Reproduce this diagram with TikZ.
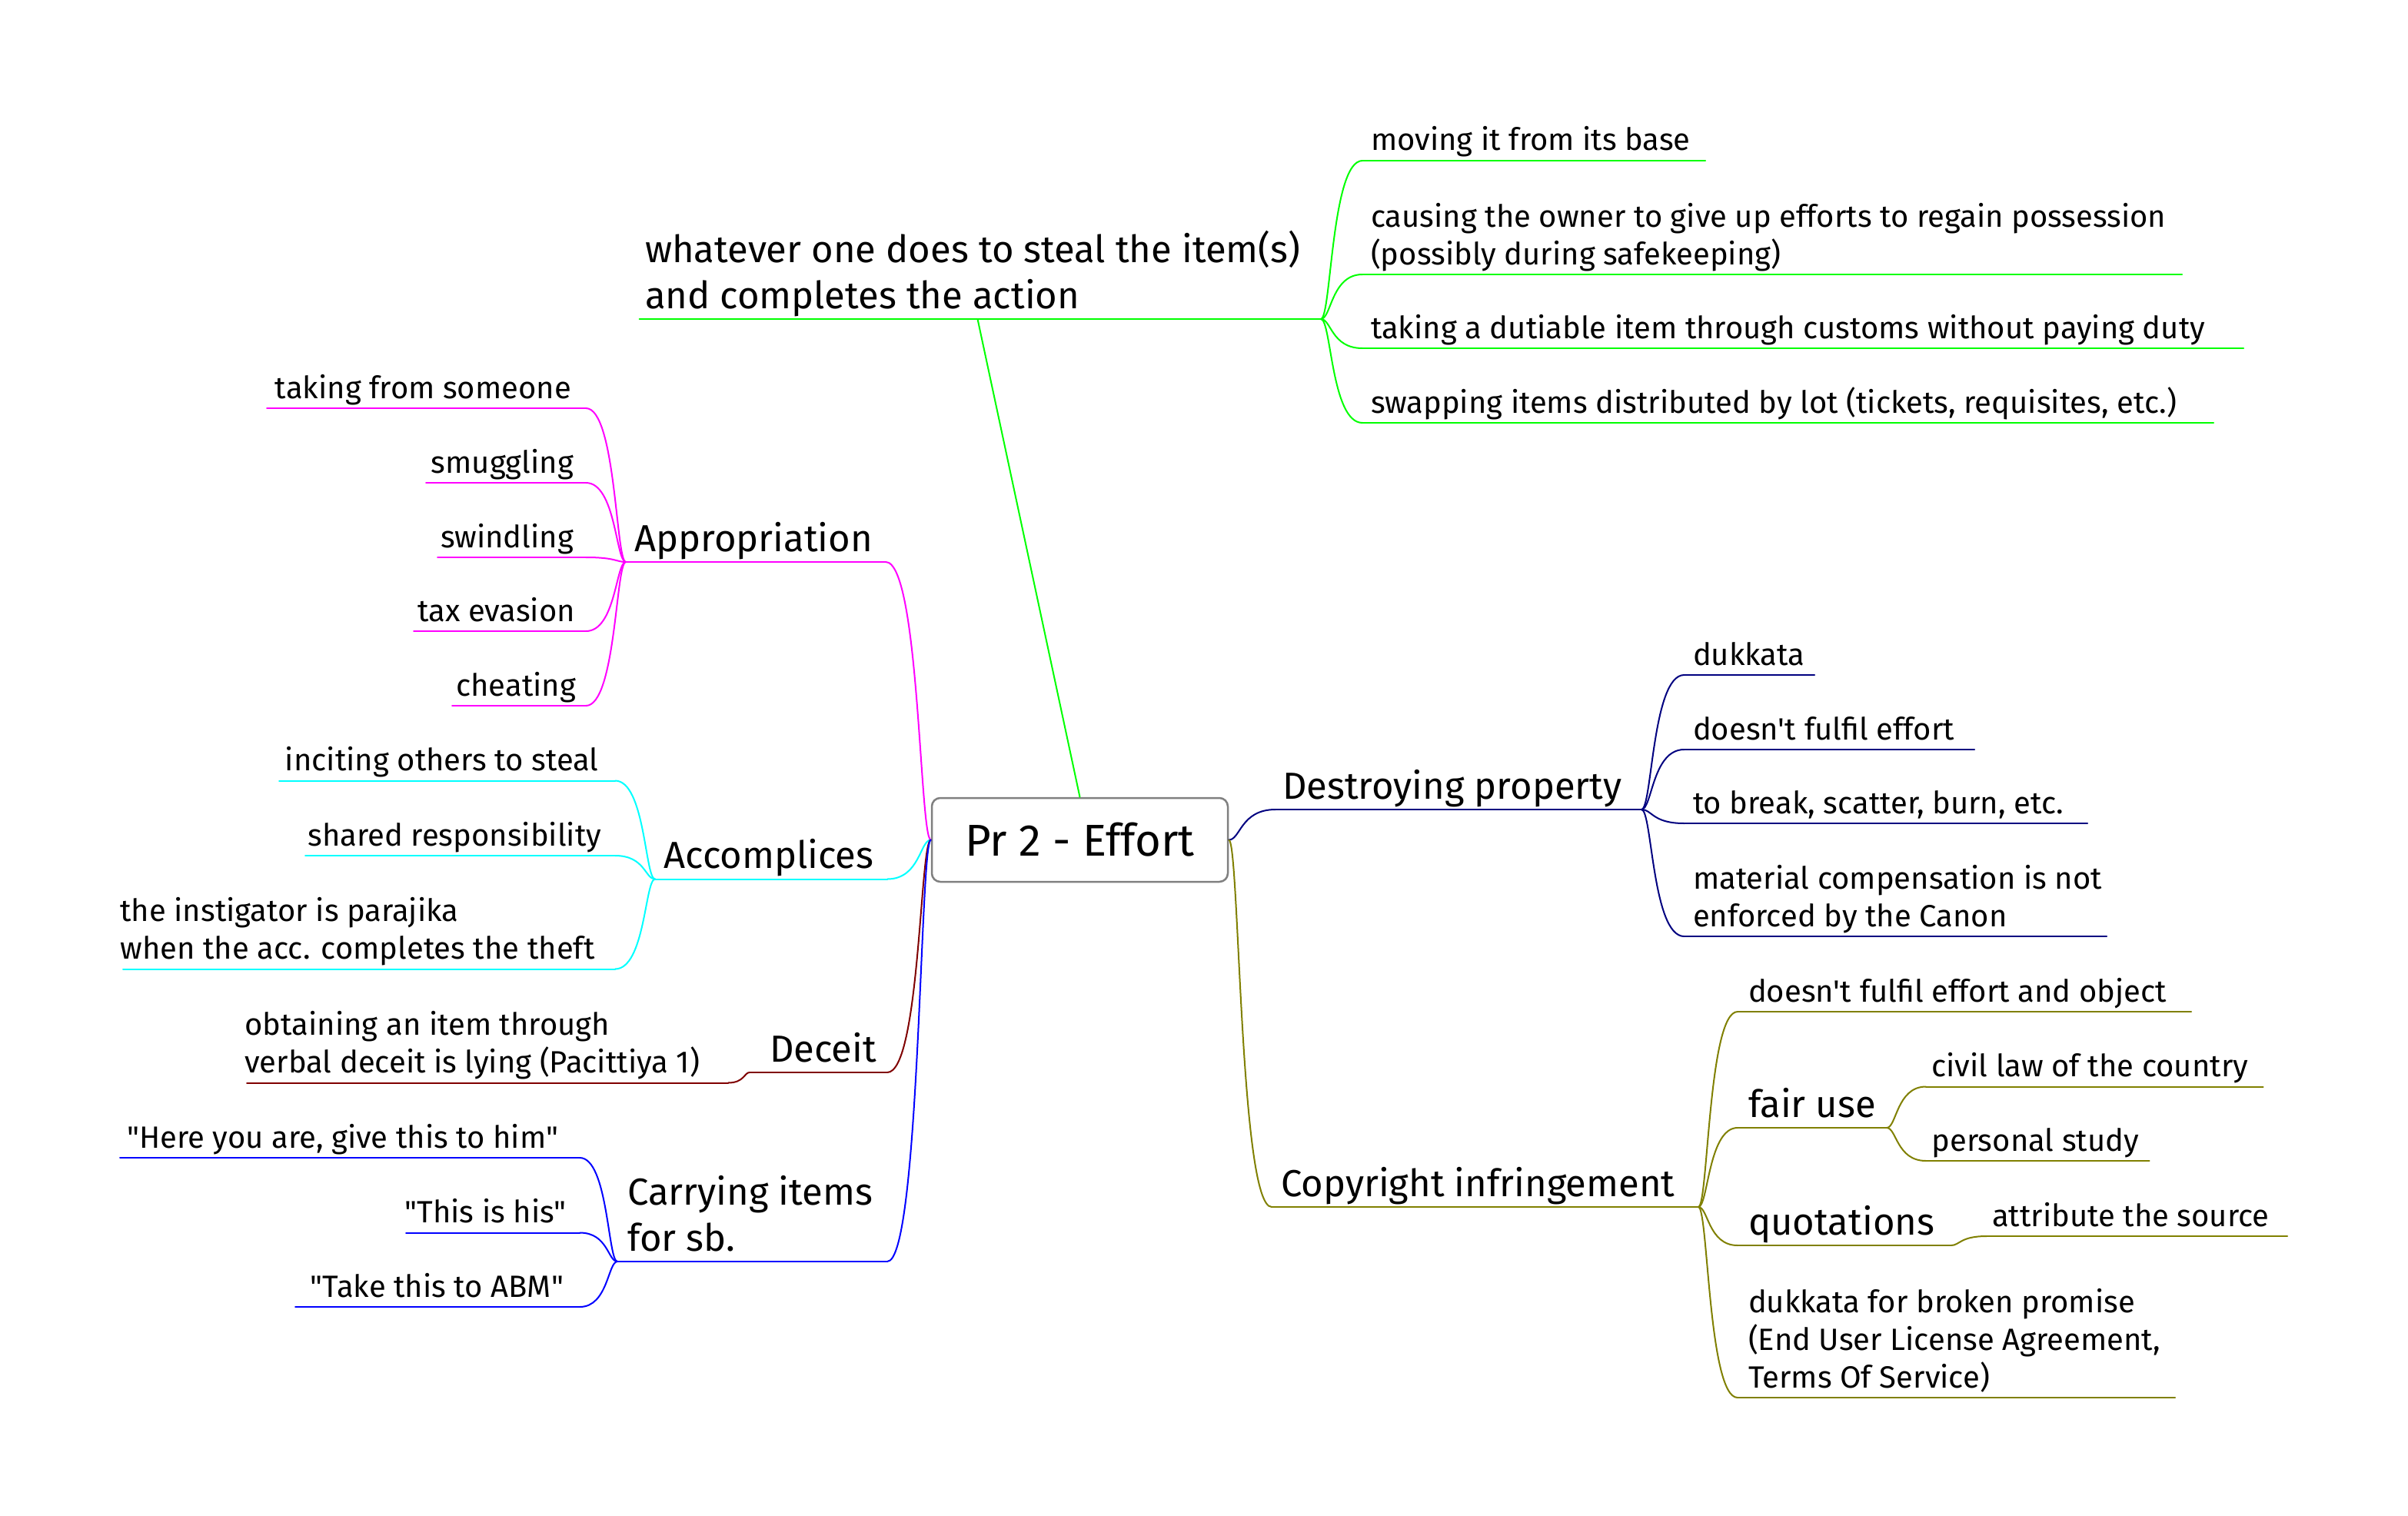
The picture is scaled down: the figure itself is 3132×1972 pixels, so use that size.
\documentclass[tikz,border=0pt]{standalone}
\usepackage{fontspec}
\setmainfont{Fira Sans}[Ligatures=TeXOff]
\usetikzlibrary{calc}
\definecolor{cgreen}{RGB}{0,255,0}
\definecolor{cmag}{RGB}{255,0,255}
\definecolor{ccyan}{RGB}{0,255,255}
\definecolor{cmaroon}{RGB}{128,0,0}
\definecolor{cblue}{RGB}{0,0,255}
\definecolor{cnavy}{RGB}{0,0,128}
\definecolor{colive}{RGB}{128,128,0}
\definecolor{cgray}{RGB}{128,128,128}
\newcommand{\ml}[1]{\begin{tabular}[t]{@{}l@{}}#1\end{tabular}}
\begin{document}
\begin{tikzpicture}[x=1pt,y=-1pt,
  sm/.style={font=\fontsize{40}{49}\selectfont, inner sep=0pt, outer sep=0pt, yshift=-2pt},
  md/.style={font=\fontsize{49}{60}\selectfont, inner sep=0pt, outer sep=0pt, yshift=-2pt},
  lw/.style={anchor=base west},
  le/.style={anchor=base east},
  ln/.style={line width=2pt, line cap=round},
  fm/.style={to path={let \p1=(\tikztostart), \p2=(\tikztotarget) in .. controls ({\x1+0.25*(\x2-\x1)},\y1) and ({\x1+0.25*(\x2-\x1)},\y2) .. (\tikztotarget)}},
  rootbox/.style={draw=cgray, line width=2.5pt, rounded corners=11pt, minimum width=385pt, minimum height=109pt, inner sep=0pt, fill=white, font=\fontsize{58}{70}\selectfont}
]
\useasboundingbox[fill=white] (0,0) rectangle (3132,1972);

% ---------- root ----------
\node[rootbox] (root) at (1404.5,1092.5) {Pr 2 - Effort};

% ---------- green branch ----------
\coordinate (stealL) at (831.5,415); \coordinate (stealR) at (1718,415); \coordinate (stealA) at (1271.5,415);
\draw[ln,cgreen] (stealL) -- (stealR);
\draw[ln,cgreen] (root.north) -- (stealA);
\node[md,lw] (steal) at (839,339) {\ml{whatever one does to steal the item(s)\\and completes the action}};

\coordinate (movL) at (1772,209); \coordinate (movR) at (2218,209);
\coordinate (cauL) at (1772,357); \coordinate (cauR) at (2838,357);
\coordinate (dutL) at (1772,453); \coordinate (dutR) at (2918,453);
\coordinate (swaL) at (1772,550); \coordinate (swaR) at (2879,550);
\draw[ln,cgreen] (movL) -- (movR);
\draw[ln,cgreen] (cauL) -- (cauR);
\draw[ln,cgreen] (dutL) -- (dutR);
\draw[ln,cgreen] (swaL) -- (swaR);
\draw[ln,cgreen] (stealR) to[fm] (movL);
\draw[ln,cgreen] (stealR) to[fm] (cauL);
\draw[ln,cgreen] (stealR) to[fm] (dutL);
\draw[ln,cgreen] (stealR) to[fm] (swaL);
\node[sm,lw] (mov) at (1783,194) {moving it from its base};
\node[sm,lw] (cau) at (1783,293) {\ml{causing the owner to give up efforts to regain possession\\(possibly during safekeeping)}};
\node[sm,lw] (dut) at (1783,438) {taking a dutiable item through customs without paying duty};
\node[sm,lw] (swa) at (1783,535) {swapping items distributed by lot (tickets, requisites, etc.)};

% ---------- magenta branch ----------
\coordinate (appL) at (814,731); \coordinate (appR) at (1152,731);
\draw[ln,cmag] (appL) -- (appR);
\draw[ln,cmag] (root.west) to[fm] (appR);
\node[md,le] (app) at (1135,715) {Appropriation};

\coordinate (takL) at (347,531); \coordinate (takR) at (762,531);
\coordinate (smuL) at (554,628); \coordinate (smuR) at (762,628);
\coordinate (swiL) at (569,725); \coordinate (swiR) at (762,725);
\coordinate (taxL) at (538,821); \coordinate (taxR) at (762,821);
\coordinate (cheL) at (588,918); \coordinate (cheR) at (762,918);
\draw[ln,cmag] (takL) -- (takR);
\draw[ln,cmag] (smuL) -- (smuR);
\draw[ln,cmag] (swiL) -- (swiR);
\draw[ln,cmag] (taxL) -- (taxR);
\draw[ln,cmag] (cheL) -- (cheR);
\draw[ln,cmag] (appL) to[fm] (takR);
\draw[ln,cmag] (appL) to[fm] (smuR);
\draw[ln,cmag] (appL) to[fm] (swiR);
\draw[ln,cmag] (appL) to[fm] (taxR);
\draw[ln,cmag] (appL) to[fm] (cheR);
\node[sm,le] (tak) at (743,516) {taking from someone};
\node[sm,le] (smu) at (746,613) {smuggling};
\node[sm,le] (swi) at (746,710) {swindling};
\node[sm,le] (tax) at (748,806) {tax evasion};
\node[sm,le] (che) at (749,903) {cheating};

% ---------- cyan branch ----------
\coordinate (accL) at (852,1143.5); \coordinate (accR) at (1154,1143.5);
\draw[ln,ccyan] (accL) -- (accR);
\draw[ln,ccyan] (root.west) to[fm] (accR);
\node[md,le] (acc) at (1136.5,1127.5) {Accomplices};

\coordinate (incL) at (363,1015.5); \coordinate (incR) at (800,1015.5);
\coordinate (shaL) at (397,1113); \coordinate (shaR) at (800,1113);
\coordinate (insL) at (160,1260.5); \coordinate (insR) at (800,1260.5);
\draw[ln,ccyan] (incL) -- (incR);
\draw[ln,ccyan] (shaL) -- (shaR);
\draw[ln,ccyan] (insL) -- (insR);
\draw[ln,ccyan] (accL) to[fm] (incR);
\draw[ln,ccyan] (accL) to[fm] (shaR);
\draw[ln,ccyan] (accL) to[fm] (insR);
\node[sm,le] (inc) at (778.6,1000.5) {inciting others to steal};
\node[sm,le] (sha) at (782,1098) {shared responsibility};
\node[sm,le] (ins) at (773.7,1196.5) {\ml{the instigator is parajika\\when the acc. completes the theft}};

% ---------- maroon branch ----------
\coordinate (decL) at (975,1395); \coordinate (decR) at (1154,1395);
\draw[ln,cmaroon] (decL) -- (decR);
\draw[ln,cmaroon] (root.west) to[fm] (decR);
\node[md,le] (dec) at (1140,1379) {Deceit};

\coordinate (obtL) at (321,1408.5); \coordinate (obtR) at (947,1408.5);
\draw[ln,cmaroon] (obtL) -- (obtR);
\draw[ln,cmaroon] (decL) to[fm] (obtR);
\node[sm,le] (obt) at (910,1344.5) {\ml{obtaining an item through\\verbal deceit is lying (Pacittiya 1)}};

% ---------- blue branch ----------
\coordinate (carL) at (803,1641); \coordinate (carR) at (1154,1641);
\draw[ln,cblue] (carL) -- (carR);
\draw[ln,cblue] (root.west) to[fm] (carR);
\node[md,le] (car) at (1135,1565) {\ml{Carrying items\\for sb.}};

\coordinate (herL) at (156,1506); \coordinate (herR) at (754,1506);
\coordinate (thiL) at (528,1603.5); \coordinate (thiR) at (754,1603.5);
\coordinate (abmL) at (384,1700); \coordinate (abmR) at (754,1700);
\draw[ln,cblue] (herL) -- (herR);
\draw[ln,cblue] (thiL) -- (thiR);
\draw[ln,cblue] (abmL) -- (abmR);
\draw[ln,cblue] (carL) to[fm] (herR);
\draw[ln,cblue] (carL) to[fm] (thiR);
\draw[ln,cblue] (carL) to[fm] (abmR);
\node[sm,le] (her) at (726,1491) {"Here you are, give this to him"};
\node[sm,le] (thi) at (736.5,1588.5) {"This is his"};
\node[sm,le] (abm) at (733,1685) {"Take this to ABM"};

% ---------- navy branch ----------
\coordinate (desL) at (1659,1053); \coordinate (desR) at (2135,1053);
\draw[ln,cnavy] (desL) -- (desR);
\draw[ln,cnavy] (root.east) to[fm] (desL);
\node[md,lw] (des) at (1668,1037) {Destroying property};

\coordinate (dukL) at (2190.5,878); \coordinate (dukR) at (2360,878);
\coordinate (dfeL) at (2190.5,975); \coordinate (dfeR) at (2568,975);
\coordinate (tobL) at (2190.5,1071); \coordinate (tobR) at (2715,1071);
\coordinate (matL) at (2190.5,1218); \coordinate (matR) at (2740,1218);
\draw[ln,cnavy] (dukL) -- (dukR);
\draw[ln,cnavy] (dfeL) -- (dfeR);
\draw[ln,cnavy] (tobL) -- (tobR);
\draw[ln,cnavy] (matL) -- (matR);
\draw[ln,cnavy] (desR) to[fm] (dukL);
\draw[ln,cnavy] (desR) to[fm] (dfeL);
\draw[ln,cnavy] (desR) to[fm] (tobL);
\draw[ln,cnavy] (desR) to[fm] (matL);
\node[sm,lw] (duk) at (2202,863) {dukkata};
\node[sm,lw] (dfe) at (2202,960) {doesn't fulfil effort};
\node[sm,lw] (tob) at (2202,1056) {to break, scatter, burn, etc.};
\node[sm,lw] (mat) at (2202,1154) {\ml{material compensation is not\\enforced by the Canon}};

% ---------- olive branch ----------
\coordinate (copL) at (1654,1570); \coordinate (copR) at (2209,1570);
\draw[ln,colive] (copL) -- (copR);
\draw[ln,colive] (root.east) to[fm] (copL);
\node[md,lw] (cop) at (1666,1554) {Copyright infringement};

\coordinate (dfoL) at (2260,1316); \coordinate (dfoR) at (2850,1316);
\coordinate (faiL) at (2260,1467); \coordinate (faiR) at (2454,1467);
\coordinate (quoL) at (2260,1620); \coordinate (quoR) at (2537.5,1620);
\coordinate (dfbL) at (2260,1818); \coordinate (dfbR) at (2829,1818);
\draw[ln,colive] (dfoL) -- (dfoR);
\draw[ln,colive] (faiL) -- (faiR);
\draw[ln,colive] (quoL) -- (quoR);
\draw[ln,colive] (dfbL) -- (dfbR);
\draw[ln,colive] (copR) to[fm] (dfoL);
\draw[ln,colive] (copR) to[fm] (faiL);
\draw[ln,colive] (copR) to[fm] (quoL);
\draw[ln,colive] (copR) to[fm] (dfbL);
\node[sm,lw] (dfo) at (2274,1301) {doesn't fulfil effort and object};
\node[md,lw] (fai) at (2274,1451) {fair use};
\node[md,lw] (quo) at (2274,1604) {quotations};
\node[sm,lw] (dfb) at (2274,1705) {\ml{dukkata for broken promise\\(End User License Agreement,\\Terms Of Service)}};

\coordinate (civL) at (2505,1413.5); \coordinate (civR) at (2943.5,1413.5);
\coordinate (perL) at (2505,1510); \coordinate (perR) at (2795.5,1510);
\draw[ln,colive] (civL) -- (civR);
\draw[ln,colive] (perL) -- (perR);
\draw[ln,colive] (faiR) to[fm] (civL);
\draw[ln,colive] (faiR) to[fm] (perL);
\node[sm,lw] (civ) at (2512.5,1398.5) {civil law of the country};
\node[sm,lw] (per) at (2512.5,1495) {personal study};

\coordinate (attL) at (2584,1608); \coordinate (attR) at (2975,1608);
\draw[ln,colive] (attL) -- (attR);
\draw[ln,colive] (quoR) to[fm] (attL);
\node[sm,lw] (att) at (2591,1593) {attribute the source};
\end{tikzpicture}
\end{document}
